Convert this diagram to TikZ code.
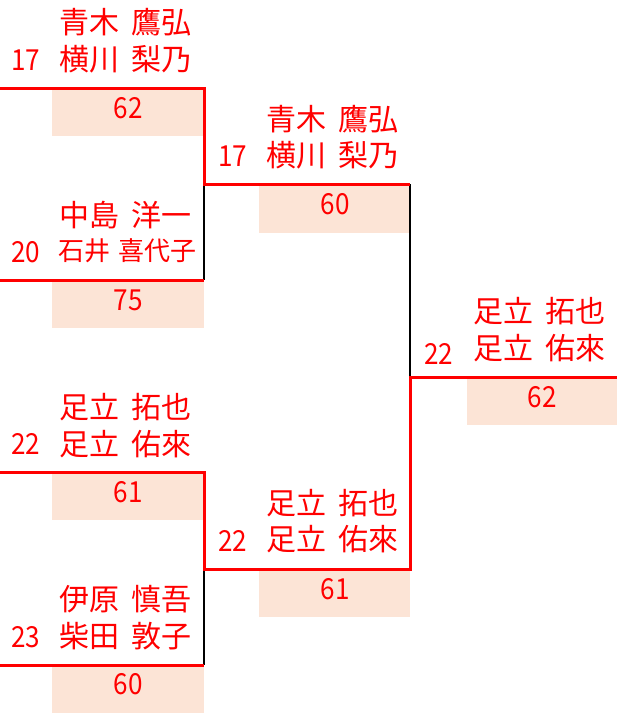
\documentclass[tikz,border=0pt]{standalone}
\usepackage{fontspec}
\newfontfamily\jp{Noto Sans CJK JP}
\definecolor{tred}{HTML}{FF0000}
\definecolor{peach}{HTML}{FCE4D6}
\newcommand\dg[1]{\scalebox{0.9}[1]{#1}}
\newcommand\nmfont{\jp\fontsize{30}{34}\selectfont\spaceskip 12pt\relax}
\newcommand\nmsfont{\jp\fontsize{26}{30}\selectfont\spaceskip 8pt\relax}
\begin{document}
\begin{tikzpicture}[x=1pt,y=-1pt,
  nm/.style={anchor=base west, inner sep=0pt, text=tred, font=\nmfont},
  nmsmall/.style={nm, font=\nmsfont},
  seednum/.style={anchor=base west, inner sep=0pt, text=tred, font=\jp\fontsize{29}{34}\selectfont},
  scorenum/.style={anchor=base, inner sep=0pt, text=tred, font=\jp\fontsize{29}{34}\selectfont},
  scorebox/.style={fill=peach, draw=none},
  win/.style={draw=tred, line width=3pt},
  lose/.style={draw=black, line width=1.2pt}]
\useasboundingbox (0,0) rectangle (617,716);

% score boxes
\fill[scorebox] (52,90) rectangle (204,136);
\fill[scorebox] (52,282) rectangle (204,328);
\fill[scorebox] (52,474) rectangle (204,520);
\fill[scorebox] (52,667) rectangle (204,713);
\fill[scorebox] (259,186) rectangle (410,233);
\fill[scorebox] (259,571) rectangle (410,617);
\fill[scorebox] (467,379) rectangle (617,425);

% bracket coordinates
\coordinate (a0) at (0,88);
\coordinate (a1) at (204,88);
\coordinate (m1) at (204,184);
\coordinate (b1) at (204,280);
\coordinate (b0) at (0,280);
\coordinate (s1) at (410,184);
\coordinate (f1) at (410,377);
\coordinate (f2) at (617,377);
\coordinate (c0) at (0,472);
\coordinate (c1) at (204,472);
\coordinate (m2) at (204,569);
\coordinate (d1) at (204,665);
\coordinate (d0) at (0,665);
\coordinate (s2) at (410,569);

\draw[lose] (m1) -- (b1);
\draw[lose] (s1) -- (f1);
\draw[lose] (m2) -- (d1);
\draw[win] (a0) -- (a1) -- (m1) -- (s1);
\draw[win] (b0) -- (b1);
\draw[win] (c0) -- (c1) -- (m2) -- (s2) -- (f1) -- (f2);
\draw[win] (d0) -- (d1);

% round 1, match A
\node[nm] (n11) at (59,33.5) {青木 鷹弘};
\node[nm] (n12) at (59,70) {横川 梨乃};
\node[seednum] (s1a) at (11,70) {\dg{17}};
\node[scorenum] (p1a) at (128,118) {\dg{62}};
\node[nm] (n21) at (59,226) {中島 洋一};
\node[nmsmall] (n22) at (58,260) {石井 喜代子};
\node[seednum] (s1b) at (11,262) {\dg{20}};
\node[scorenum] (p1b) at (128,310) {\dg{75}};

% round 1, match B
\node[nm] (n31) at (59,418) {足立 拓也};
\node[nm] (n32) at (59,455) {足立 佑來};
\node[seednum] (s1c) at (11,454) {\dg{22}};
\node[scorenum] (p1c) at (128,502) {\dg{61}};
\node[nm] (n41) at (59,610) {伊原 慎吾};
\node[nm] (n42) at (59,647) {柴田 敦子};
\node[seednum] (s1d) at (11,647) {\dg{23}};
\node[scorenum] (p1d) at (128,694) {\dg{60}};

% round 2
\node[nm] (r21) at (266,130) {青木 鷹弘};
\node[nm] (r22) at (266,166) {横川 梨乃};
\node[seednum] (s2a) at (218,166) {\dg{17}};
\node[scorenum] (p2a) at (335,214) {\dg{60}};
\node[nm] (r31) at (266,514) {足立 拓也};
\node[nm] (r32) at (266,550) {足立 佑來};
\node[seednum] (s2b) at (218,551) {\dg{22}};
\node[scorenum] (p2b) at (335,599) {\dg{61}};

% final
\node[nm] (w1) at (473,322.5) {足立 拓也};
\node[nm] (w2) at (473,359) {足立 佑來};
\node[seednum] (s3) at (424,364) {\dg{22}};
\node[scorenum] (p3) at (542,407) {\dg{62}};
\end{tikzpicture}
\end{document}
